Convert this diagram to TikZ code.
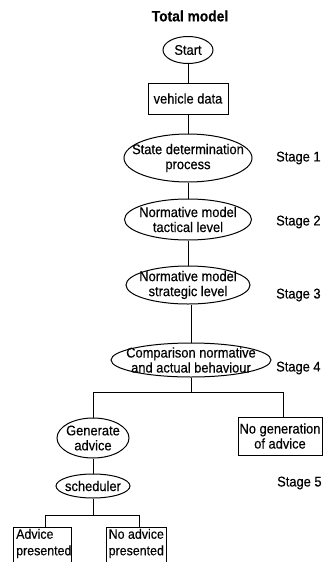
\documentclass[tikz,border=0pt]{standalone}
\usepackage{fontspec}
\setmainfont{Liberation Sans}[FakeStretch=0.92,FakeBold=0.4]
\usetikzlibrary{shapes.geometric}
\tikzset{
  conn/.style={line width=1pt},
  el/.style={draw, ellipse, line width=1pt, inner sep=0pt},
  bx/.style={draw, rectangle, line width=0.9pt, inner sep=0pt},
  txt/.style={align=center, inner sep=0pt, font=\fontsize{14}{15}\selectfont},
  ltxt/.style={align=left, anchor=west, inner sep=0pt, font=\fontsize{13.5}{16.5}\selectfont},
  stg/.style={anchor=west, inner sep=0pt, font=\fontsize{14}{15}\selectfont},
}
\begin{document}
\begin{tikzpicture}[x=1pt,y=-1pt]
\useasboundingbox (0,0) rectangle (323,562);
\clip (0,0) rectangle (323,562);
% title
\node[inner sep=0pt, font=\bfseries\fontsize{15}{16}\selectfont] (title) at (190,16) {Total model};
% main column
\node[el, minimum width=50pt, minimum height=27pt] (start) at (188,50) {};
\node[txt] (startt) at (start) {Start};
\node[bx, minimum width=80pt, minimum height=31pt] (vd) at (188,98.5) {};
\node[txt] (vdt) at (vd) {vehicle data};
\node[el, minimum width=128pt, minimum height=48pt] (s1) at (188,158) {};
\node[txt] (s1t) at (s1) {State determination\\process};
\node[el, minimum width=127pt, minimum height=41pt] (s2) at (188,219.5) {};
\node[txt] (s2t) at (s2) {Normative model\\tactical level};
\node[el, minimum width=124pt, minimum height=38pt] (s3) at (188,285) {};
\node[txt] (s3t) at (s3) {Normative model\\strategic level};
\node[el, minimum width=160pt, minimum height=34pt] (s4) at (191,360) {};
\node[txt] (s4t) at (s4) {Comparison normative\\and actual behaviour};
% stage labels
\node[stg] (st1) at (276,158) {Stage 1};
\node[stg] (st2) at (276,222) {Stage 2};
\node[stg] (st3) at (276,295) {Stage 3};
\node[stg] (st4) at (276,368) {Stage 4};
\node[stg] (st5) at (277,483) {Stage 5};
% branches
\node[el, minimum width=72pt, minimum height=40pt] (gen) at (93,438) {};
\node[txt] (gent) at (gen) {Generate\\advice};
\node[bx, minimum width=84pt, minimum height=38pt] (nogen) at (280,436) {};
\node[txt] (nogent) at (nogen) {No generation\\of advice};
\node[el, minimum width=74pt, minimum height=24pt] (sched) at (93,486) {};
\node[txt] (schedt) at (sched) {scheduler};
\node[bx, minimum width=58pt, minimum height=50pt, anchor=north] (adv) at (42,527) {};
\node[ltxt] (advt) at (16,543.5) {Advice\\presented};
\node[bx, minimum width=60pt, minimum height=50pt, anchor=north] (noadv) at (136,527) {};
\node[ltxt] (noadvt) at (108.5,543.5) {No advice\\presented};
% junction points
\coordinate (jm) at (191,392);
\coordinate (jr) at (283,392);
\coordinate (bl) at (45,515);
\coordinate (br) at (139,515);
% connectors
\draw[conn] (start.south) -- (vd.north);
\draw[conn] (vd.south) -- (s1.north);
\draw[conn] (s1.south) -- (s2.north);
\draw[conn] (s2.south) -- (s3.north);
\draw[conn] (s3.south -| s4.north) -- (s4.north);
\draw[conn] (s4.south) -- (jm);
\draw[conn] (gen.north) |- (jr) -- (jr |- nogen.north);
\draw[conn] (gen.south) -- (sched.north);
\draw[conn] (sched.south) -- (sched.south |- bl);
\draw[conn] (adv.north -| bl) |- (br) -- (br |- noadv.north);
\end{tikzpicture}
\end{document}
